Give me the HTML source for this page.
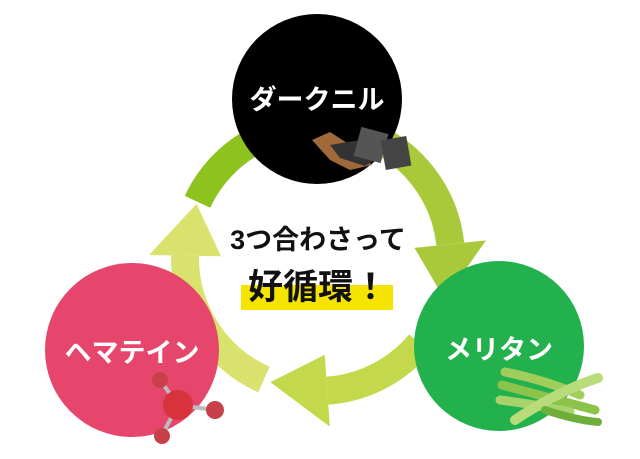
<!DOCTYPE html>
<html><head><meta charset="utf-8"><style>
html,body{margin:0;padding:0;background:#fff;width:640px;height:459px;overflow:hidden}
svg{display:block}
text{font-family:"Liberation Sans","Noto Sans CJK JP",sans-serif;font-weight:bold}
</style></head><body>
<svg id="s" width="640" height="459" viewBox="0 0 640 459" xmlns="http://www.w3.org/2000/svg">
<g id="ring"></g>
<circle cx="317" cy="99" r="85" fill="#000"/>
<circle cx="499" cy="346" r="85" fill="#22b14c"/>
<circle cx="132" cy="350" r="87" fill="#e6456c"/>
<!-- charcoal -->
<path d="M312 140 L330 132 L358 150 L372 165 L350 170 L330 160 Z" fill="#a0693a"/>
<path d="M330 145 L360 140 L378 158 L365 166 L340 158 Z" fill="#333"/>
<rect x="357" y="130" width="28" height="30" fill="#555" transform="rotate(15 371 145)"/>
<rect x="383" y="138" width="26" height="30" fill="#444" transform="rotate(-10 396 153)"/>
<!-- beans -->
<g stroke-linecap="round" fill="none">
<path d="M505 372 Q545 380 580 395" stroke="#9fcf5a" stroke-width="9"/>
<path d="M502 385 Q540 395 595 410" stroke="#8cc34a" stroke-width="9"/>
<path d="M500 400 Q540 405 570 412" stroke="#a6d36a" stroke-width="9"/>
<path d="M515 420 Q560 390 598 378" stroke="#b8dc7a" stroke-width="10"/>
<path d="M545 410 Q575 420 598 422" stroke="#6fae3a" stroke-width="8"/>
</g>
<!-- molecule -->
<g stroke="#bbb" stroke-width="4"><line x1="160" y1="380" x2="178" y2="405"/><line x1="178" y1="405" x2="215" y2="410"/><line x1="178" y1="405" x2="162" y2="435"/></g>
<circle cx="160" cy="380" r="8" fill="#c8404a"/>
<circle cx="178" cy="405" r="15" fill="#d8323c"/>
<circle cx="215" cy="410" r="9" fill="#c8404a"/>
<circle cx="162" cy="436" r="8" fill="#c8404a"/>
<text x="317" y="109" font-size="27" fill="#fff" text-anchor="middle">ダークニル</text>
<text x="499" y="359" font-size="27" fill="#fff" text-anchor="middle">メリタン</text>
<text x="132" y="362" font-size="27" fill="#fff" text-anchor="middle">ヘマテイン</text>
<text x="318" y="249" font-size="27" fill="#111" text-anchor="middle">3つ合わさって</text>
<rect x="241" y="285" width="152" height="25" fill="#f5e400"/>
<text x="318" y="299" font-size="35" fill="#111" text-anchor="middle">好循環！</text>
</svg>
<script>
var cx=318,cy=258,r=133,w=28,g=document.getElementById('ring'),ns='http://www.w3.org/2000/svg';
function P(a,rr){a=a*Math.PI/180;return [cx+rr*Math.cos(a),cy+rr*Math.sin(a)];}
function arc(a1,a2,col){var p=P(a1,r),q=P(a2,r),e=document.createElementNS(ns,'path');
e.setAttribute('d','M'+p+' A'+r+' '+r+' 0 0 1 '+q);e.setAttribute('stroke',col);e.setAttribute('stroke-width',w);e.setAttribute('fill','none');g.appendChild(e);}
function head(a,b,col){var o=P(a,r+36),i=P(a,r-36),t=P(b,r),e=document.createElementNS(ns,'polygon');
e.setAttribute('points',o+' '+t+' '+i);e.setAttribute('fill',col);g.appendChild(e);}
arc(205,242,'#8dc21f');
arc(290,354,'#a9c93a');head(354,18,'#a9c93a');
arc(40,86,'#c3d84a');head(86,111,'#c3d84a');
arc(114,181,'#d8e26c');head(181,204,'#d8e26c');
</script>
</body></html>
